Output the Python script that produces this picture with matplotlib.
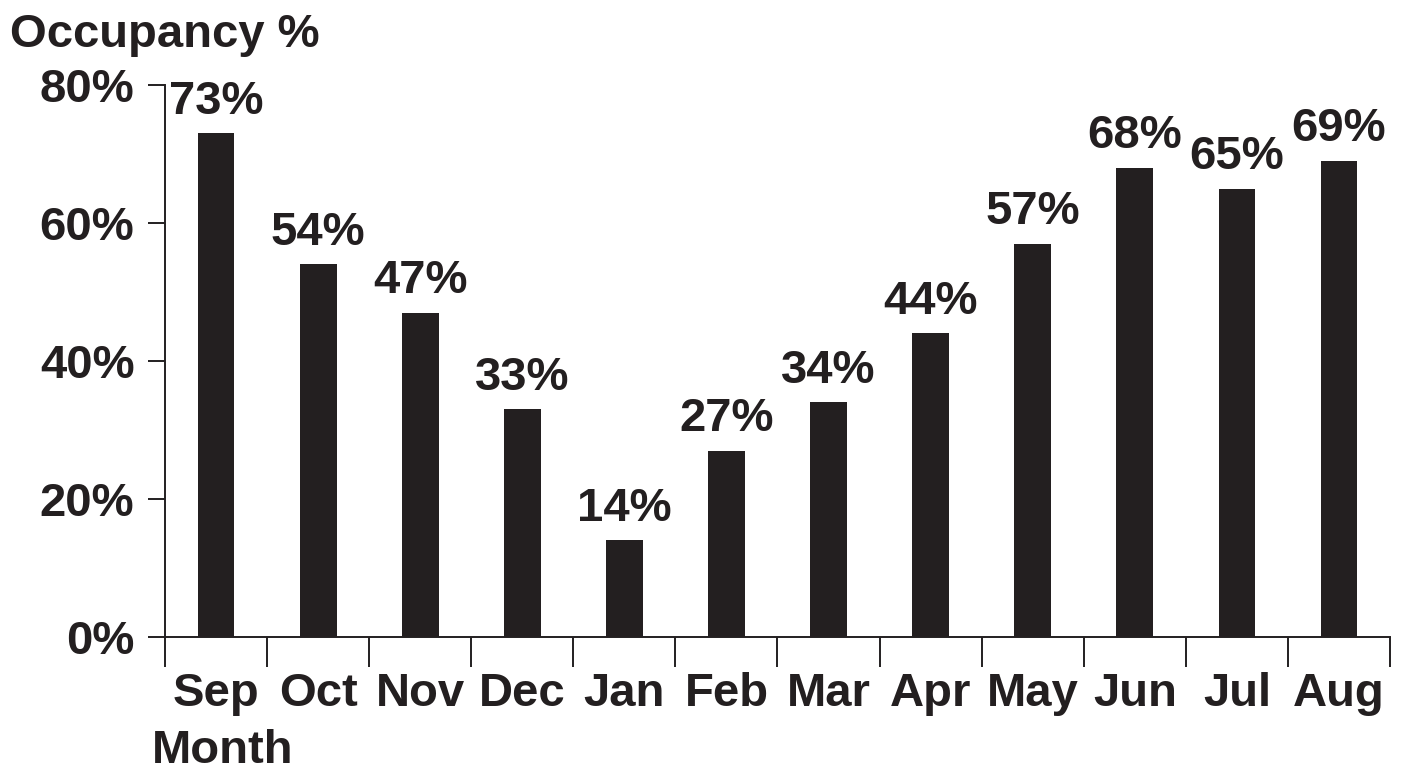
import matplotlib.pyplot as plt

months = ["Sep", "Oct", "Nov", "Dec", "Jan", "Feb", "Mar", "Apr", "May", "Jun", "Jul", "Aug"]
occupancy = [73, 54, 47, 33, 14, 27, 34, 44, 57, 68, 65, 69]
y_ticks = [0, 20, 40, 60, 80]

ink = "#231f20"
plt.rcParams["font.family"] = ["Liberation Sans", "DejaVu Sans"]
plt.rcParams["font.weight"] = "bold"
plt.rcParams["font.size"] = 34

fig = plt.figure(figsize=(14.02, 7.74), dpi=100)
ax = fig.add_axes([165 / 1402, 1 - 637 / 774, 1225 / 1402, 552 / 774])

x = list(range(len(months)))
bars = ax.bar(x, occupancy, width=0.36, color=ink)

# value labels sit a fixed distance above each bar
for xi, v in zip(x, occupancy):
    ax.annotate(f"{v}%", (xi, v), xytext=(0, 14), textcoords="offset points",
                ha="center", va="baseline", color=ink, fontweight="bold")

ax.set_xlim(-0.5, len(months) - 0.5)
ax.set_ylim(0, 80)

# month names centred under bars, tick marks on the category boundaries
ax.set_xticks([i - 0.5 for i in range(len(months) + 1)])
ax.set_xticklabels([])
ax.set_xticks(x, minor=True)
ax.set_xticklabels(months, minor=True)
ax.tick_params(axis="x", which="major", direction="out", length=21.5, width=1.4, color=ink)
ax.tick_params(axis="x", which="minor", length=0, pad=25, labelcolor=ink)

ax.set_yticks(y_ticks)
ax.set_yticklabels([f"{t}%" for t in y_ticks])
ax.tick_params(axis="y", direction="out", length=12, width=1.4, pad=10, color=ink, labelcolor=ink)

for side in ["top", "right"]:
    ax.spines[side].set_visible(False)
for side in ["left", "bottom"]:
    ax.spines[side].set_linewidth(1.4)
    ax.spines[side].set_color(ink)

fig.text(10 / 1402, 1 - 47 / 774, "Occupancy %", color=ink, fontweight="bold", va="baseline")
fig.text(152 / 1402, 1 - 763 / 774, "Month", color=ink, fontweight="bold", va="baseline")

fig.savefig("out.png", dpi=100, facecolor="white")
